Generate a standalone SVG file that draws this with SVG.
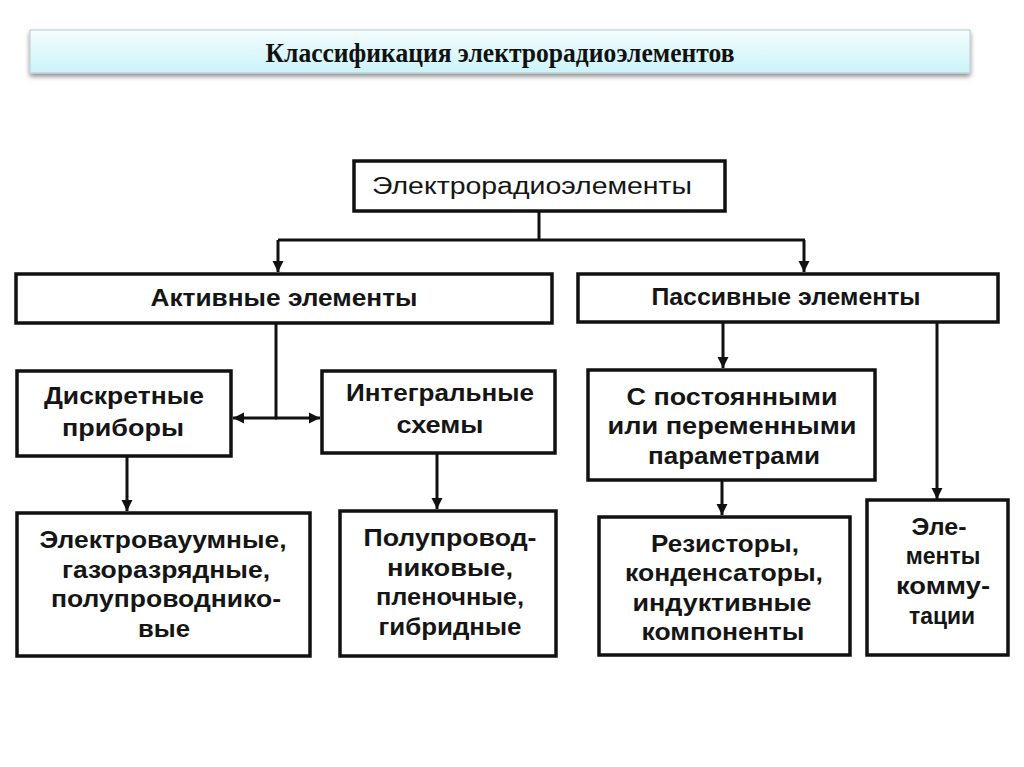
<svg xmlns="http://www.w3.org/2000/svg" width="1024" height="767" viewBox="0 0 1024 767">
<defs>
  <linearGradient id="tg" x1="0" y1="0" x2="0" y2="1">
    <stop offset="0" stop-color="#f4fdfe"/>
    <stop offset="1" stop-color="#cbf3f8"/>
  </linearGradient>
  <filter id="sh" x="-5%" y="-30%" width="110%" height="180%">
    <feGaussianBlur in="SourceAlpha" stdDeviation="2.5"/>
    <feOffset dy="3" result="b"/>
    <feComponentTransfer><feFuncA type="linear" slope="0.45"/></feComponentTransfer>
    <feMerge><feMergeNode/><feMergeNode in="SourceGraphic"/></feMerge>
  </filter>
  <marker id="ar" markerUnits="userSpaceOnUse" markerWidth="12" markerHeight="12" refX="11" refY="6" orient="auto">
    <path d="M0,0.5 L11,6 L0,11.5 Z" fill="#111"/>
  </marker>
  <style>
    .box{fill:#fff;stroke:#111;stroke-width:3.5}
    .t{font-family:"Liberation Sans",Arial,sans-serif;font-weight:bold;font-size:23px;fill:#151515;text-anchor:middle}
    .c{fill:none;stroke:#111;stroke-width:3}
    .title{font-family:"Liberation Serif","Times New Roman",serif;font-weight:bold;font-size:28px;fill:#111;text-anchor:middle}
  </style>
</defs>
<rect width="1024" height="767" fill="#fff"/>

<g id="title">
  <rect x="30" y="30" width="940" height="43" fill="url(#tg)" stroke="#b9c9cc" stroke-width="1" filter="url(#sh)"/>
  <text class="title" x="500" y="62" textLength="469" lengthAdjust="spacingAndGlyphs">Классификация электрорадиоэлементов</text>
</g>

<g id="connectors">
  <path class="c" d="M539,212 V240 M278,240 H805"/>
  <path class="c" d="M278,240 V272" marker-end="url(#ar)"/>
  <path class="c" d="M804,240 V272" marker-end="url(#ar)"/>
  <path class="c" d="M276,323 V418"/>
  <path class="c" d="M277,418 H233" marker-end="url(#ar)"/>
  <path class="c" d="M275,418 H320" marker-end="url(#ar)"/>
  <path class="c" d="M127,457 V511" marker-end="url(#ar)"/>
  <path class="c" d="M437,454 V509" marker-end="url(#ar)"/>
  <path class="c" d="M723,323 V368" marker-end="url(#ar)"/>
  <path class="c" d="M722,481 V515" marker-end="url(#ar)"/>
  <path class="c" d="M937,323 V499" marker-end="url(#ar)"/>
</g>

<g id="n-root">
  <rect class="box" x="354" y="161" width="371" height="50"/>
  <text class="t" x="532" y="194" textLength="320" lengthAdjust="spacingAndGlyphs" style="font-weight:normal">Электрорадиоэлементы</text>
</g>

<g id="n-active">
  <rect class="box" x="16" y="274" width="536" height="49"/>
  <text class="t" x="284" y="306" textLength="267" lengthAdjust="spacingAndGlyphs">Активные элементы</text>
</g>

<g id="n-passive">
  <rect class="box" x="578" y="274" width="420" height="48"/>
  <text class="t" x="786" y="305" textLength="269" lengthAdjust="spacingAndGlyphs">Пассивные элементы</text>
</g>

<g id="n-discrete">
  <rect class="box" x="17" y="371" width="214" height="85"/>
  <text class="t" x="124" y="404" textLength="160" lengthAdjust="spacingAndGlyphs">Дискретные</text>
  <text class="t" x="123" y="436" textLength="122" lengthAdjust="spacingAndGlyphs">приборы</text>
</g>

<g id="n-integral">
  <rect class="box" x="322" y="371" width="233" height="82"/>
  <text class="t" x="440" y="401" textLength="188" lengthAdjust="spacingAndGlyphs">Интегральные</text>
  <text class="t" x="440" y="433" textLength="87" lengthAdjust="spacingAndGlyphs">схемы</text>
</g>

<g id="n-vacuum">
  <rect class="box" x="17" y="513" width="293" height="143"/>
  <text class="t" x="163" y="548" textLength="247" lengthAdjust="spacingAndGlyphs">Электровауумные,</text>
  <text class="t" x="166" y="578" textLength="208" lengthAdjust="spacingAndGlyphs">газоразрядные,</text>
  <text class="t" x="166" y="607" textLength="230" lengthAdjust="spacingAndGlyphs">полупроводнико-</text>
  <text class="t" x="164" y="637" textLength="52" lengthAdjust="spacingAndGlyphs">вые</text>
</g>

<g id="n-semi">
  <rect class="box" x="340" y="511" width="216" height="145"/>
  <text class="t" x="450" y="546" textLength="173" lengthAdjust="spacingAndGlyphs">Полупровод-</text>
  <text class="t" x="450" y="576" textLength="126" lengthAdjust="spacingAndGlyphs">никовые,</text>
  <text class="t" x="450" y="605" textLength="148" lengthAdjust="spacingAndGlyphs">пленочные,</text>
  <text class="t" x="450" y="635" textLength="143" lengthAdjust="spacingAndGlyphs">гибридные</text>
</g>

<g id="n-params">
  <rect class="box" x="588" y="370" width="287" height="110"/>
  <text class="t" x="732" y="405" textLength="211" lengthAdjust="spacingAndGlyphs">С постоянными</text>
  <text class="t" x="732" y="434" textLength="249" lengthAdjust="spacingAndGlyphs">или  переменными</text>
  <text class="t" x="734" y="464" textLength="172" lengthAdjust="spacingAndGlyphs">параметрами</text>
</g>

<g id="n-resistors">
  <rect class="box" x="599" y="517" width="251" height="138"/>
  <text class="t" x="725" y="552" textLength="148" lengthAdjust="spacingAndGlyphs">Резисторы,</text>
  <text class="t" x="724" y="581" textLength="198" lengthAdjust="spacingAndGlyphs">конденсаторы,</text>
  <text class="t" x="722" y="611" textLength="179" lengthAdjust="spacingAndGlyphs">индуктивные</text>
  <text class="t" x="723" y="640" textLength="163" lengthAdjust="spacingAndGlyphs">компоненты</text>
</g>

<g id="n-switch">
  <rect class="box" x="867" y="500" width="141" height="155"/>
  <text class="t" x="939" y="535" textLength="55" lengthAdjust="spacingAndGlyphs">Эле-</text>
  <text class="t" x="943" y="564">менты</text>
  <text class="t" x="943" y="594" textLength="94" lengthAdjust="spacingAndGlyphs">комму-</text>
  <text class="t" x="942" y="624" textLength="66" lengthAdjust="spacingAndGlyphs">тации</text>
</g>
</svg>
